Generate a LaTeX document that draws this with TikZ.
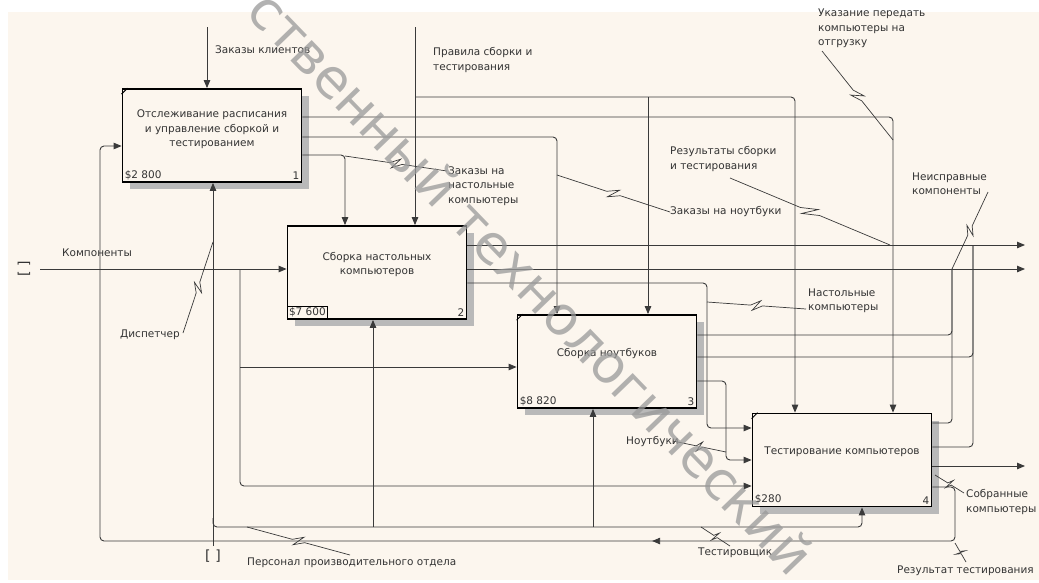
\documentclass[tikz,border=0pt]{standalone}
\usepackage{fontspec}
\setmainfont{DejaVu Sans}
\usetikzlibrary{arrows.meta, calc, shadows, decorations.markings}

\definecolor{paper}{HTML}{FCF6EE}
\definecolor{ink}{HTML}{3A3A3A}
\definecolor{txt}{HTML}{333333}
\newcommand{\idfont}{\fontsize{10.5}{14.5}\selectfont}
% label squiggle with a small zigzag in the middle
\newcommand{\squig}[2]{%
  \draw[squig] (#1) -- ($(#1)!0.44!(#2)$) -- ($(#1)!0.54!(#2)!5pt!90:(#2)$)
    -- ($(#1)!0.46!(#2)!5pt!-90:(#2)$) -- ($(#1)!0.56!(#2)$) -- (#2);}

\begin{document}
\begin{tikzpicture}[x=1pt, y=-1pt,
    box/.style={draw=black, line width=1.8pt, fill=paper, minimum width=179pt,
        minimum height=93pt, inner sep=0pt,
        drop shadow={shadow xshift=7pt, shadow yshift=-7pt, fill=gray!55, opacity=1}},
    boxtext/.style={align=center, font=\idfont, text=txt},
    num/.style={font=\idfont, text=txt, inner sep=3pt},
    lab/.style={align=left, font=\idfont, text=txt, inner sep=0pt, anchor=west},
    flow/.style={draw=ink, line width=0.9pt, rounded corners=4pt},
    arr/.style={flow, -{Triangle[length=8pt, width=6.5pt]}},
    squig/.style={draw=ink, line width=0.7pt},
    tunnel/.style={font=\fontsize{14}{14}\selectfont, text=txt, inner sep=0pt}]

    \fill[white] (0,0) rectangle (1039,582);
    \fill[paper] (8,12) rectangle (1039,580);
    \useasboundingbox (0,0) rectangle (1039,582);

    % activities
    \node (b1) [box] at (212,135.5) {};
    \node (b2) [box] at (377,272.5) {};
    \node (b3) [box] at (607,361.5) {};
    \node (b4) [box] at (842,460) {};

    \node (t1) [boxtext] at ([yshift=6pt]b1.center) {Отслеживание расписания\\и управление сборкой и\\тестированием};
    \node (t2) [boxtext] at ([yshift=8pt]b2.center) {Сборка настольных\\компьютеров};
    \node (t3) [boxtext] at ([yshift=8pt]b3.center) {Сборка ноутбуков};
    \node (t4) [boxtext] at ([yshift=8pt]b4.center) {Тестирование компьютеров};

    \node (c1) [num, anchor=south west] at (b1.south west) {\$2 800};
    \node (c2) [num, anchor=south west, draw=black, line width=0.8pt, inner sep=2pt] at (b2.south west) {\$7 600};
    \node (c3) [num, anchor=south west] at (b3.south west) {\$8 820};
    \node (c4) [num, anchor=south west] at (b4.south west) {\$280};
    \node (n1) [num, anchor=south east] at (b1.south east) {1};
    \node (n2) [num, anchor=south east] at (b2.south east) {2};
    \node (n3) [num, anchor=south east] at (b3.south east) {3};
    \node (n4) [num, anchor=south east] at (b4.south east) {4};

    \foreach \b in {b1, b3, b4}
        \draw[line width=1pt] ([yshift=-6pt]\b.north west) -- ([xshift=6pt]\b.north west);

    % boundary ends
    \coordinate (zk) at (207,27);
    \coordinate (pr) at (415,27);
    \coordinate (kin) at (40,269);
    \coordinate (pers) at (213,546);
    \coordinate (o1) at (1025,245);
    \coordinate (o2) at (1025,269);
    \coordinate (o3) at (1025,466);

    % controls
    \draw[arr] (zk) -- (b1.north -| zk);
    \draw[arr] (pr) -- (b2.north -| pr);
    \draw[arr] (pr |- 0,97) -| (b4.north -| 795,0);
    \draw[arr] (648,97) -- (b3.north -| 648,0);
    \draw[arr] (b1.east |- 0,117) -| (b4.north -| 893,0);
    \draw[arr] (b1.east |- 0,137) -| (b3.north -| 557,0);
    \draw[arr] (b1.east |- 0,155) -| (b2.north -| 345,0);

    % inputs
    \draw[arr] (kin) -- (b2.west |- kin);
    \draw[arr] (240,269) |- (b4.west |- 0,486);
    \draw[arr] (240,367) -- (b3.west |- 0,367);
    \draw[arr, decoration={markings, mark=at position 376pt with {\arrow{Triangle[length=8pt, width=6.5pt]}}},
        postaction={decorate}]
        (b4.east |- 0,487) -| (955,541) -| (100,146) -- (b1.west |- 0,146);

    % mechanisms
    \draw[arr] (pers) -- (b1.south -| pers);
    \draw[arr] (pers |- 0,518) |- (862,527) -- (b4.south -| 862,0);
    \draw[arr] (373,527) -- (b2.south -| 373,0);
    \draw[arr] (593,527) -- (b3.south -| 593,0);

    % outputs
    \draw[arr] (b2.east |- o1) -- (o1);
    \draw[arr] (b2.east |- o2) -- (o2);
    \draw[arr] (b2.east |- 0,283) -| (707,428) -- (b4.west |- 0,428);
    \draw[flow] (b3.east |- 0,335) -| (952,269);
    \draw[flow] (b3.east |- 0,357) -| (973,245);
    \draw[arr] (b3.east |- 0,381) -| (726,460) -- (b4.west |- 0,460);
    \draw[flow] (b4.east |- 0,423) -| (952,269);
    \draw[flow] (b4.east |- 0,447) -| (973,245);
    \draw[arr] (b4.east |- o3) -- (o3);

    % tunnels
    \node (tn1) [tunnel, rotate=90] at (24,269) {[\,\,]};
    \node (tn2) [tunnel] at (213,556) {[\,\,]};

    % arrow labels
    \node (lzk) [lab] at (215,50) {Заказы клиентов};
    \node (lpr) [lab, anchor=north west] at (433,47.5) {Правила сборки и\\тестирования};
    \node (luk) [lab, anchor=north west] at (818,9) {Указание передать\\компьютеры на\\отгрузку};
    \node (lrs) [lab, anchor=north west] at (670,146.5) {Результаты сборки\\и тестирования};
    \node (lnk) [lab, anchor=north west] at (912,172.5) {Неисправные\\компоненты};
    \node (lzn) [lab] at (670,212) {Заказы на ноутбуки};
    \node (lzd) [lab, anchor=north west] at (448,166.5) {Заказы на\\настольные\\компьютеры};
    \node (lkm) [lab] at (62,253) {Компоненты};
    \node (ldi) [lab] at (120,335) {Диспетчер};
    \node (lnc) [lab, anchor=north west] at (808,288.5) {Настольные\\компьютеры};
    \node (lnb) [lab] at (626,442) {Ноутбуки};
    \node (lpe) [lab] at (247,563) {Персонал производительного отдела};
    \node (lte) [lab] at (698,553) {Тестировщик};
    \node (lsk) [lab, anchor=north west] at (966,489.5) {Собранные\\компьютеры};
    \node (lrt) [lab] at (897,571) {Результат тестирования};

    \squig{557,175}{lzn.west}
    \squig{730,178}{890,245}
    \squig{822,51}{893,140}
    \squig{988,192}{952,269}
    \squig{345,156}{447,171}
    \squig{183,333}{213,242}
    \squig{707,302}{806,309}
    \squig{673,441}{726,452}
    \squig{247,527}{350,555}
    \squig{701,527}{730,546}
    \squig{935,475}{964,493}
    \squig{955,543}{966,562}

    % watermark
    \node (wm) [rotate=-46, text=gray!80, opacity=0.75, font=\fontsize{54}{54}\selectfont]
        at (532,282) {ственный технологический};
\end{tikzpicture}
\end{document}
